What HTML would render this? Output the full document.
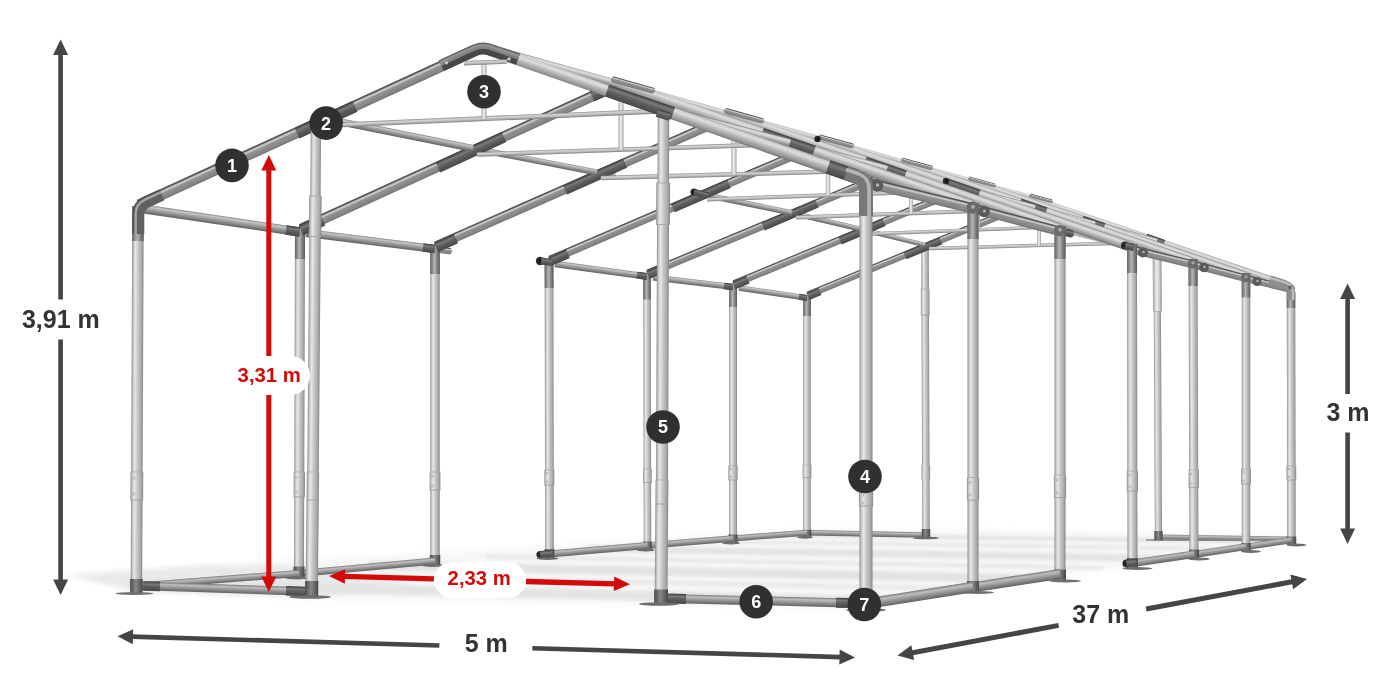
<!DOCTYPE html>
<html><head><meta charset="utf-8"><title>Tent frame dimensions</title>
<style>
html,body{margin:0;padding:0;background:#fff;}
body{width:1400px;height:700px;overflow:hidden;font-family:"Liberation Sans",Arial,sans-serif;}
svg{display:block}
text{font-family:"Liberation Sans",Arial,sans-serif;font-weight:bold}
</style></head><body>
<svg width="1400" height="700" viewBox="0 0 1400 700">
<defs>
<linearGradient id="gR" x1="0" y1="0" x2="0" y2="1"><stop offset="0" stop-color="#4a4a4a"/><stop offset="0.12" stop-color="#5c5c5c"/><stop offset="0.2" stop-color="#b4b4b4"/><stop offset="0.3" stop-color="#cdcdcd"/><stop offset="0.42" stop-color="#939393"/><stop offset="0.85" stop-color="#838383"/><stop offset="1" stop-color="#6c6c6c"/></linearGradient>
<linearGradient id="gU" x1="0" y1="0" x2="0" y2="1"><stop offset="0" stop-color="#858585"/><stop offset="0.2" stop-color="#c6c6c6"/><stop offset="0.45" stop-color="#a4a4a4"/><stop offset="0.8" stop-color="#7a7a7a"/><stop offset="1" stop-color="#5e5e5e"/></linearGradient>
<linearGradient id="gT" x1="0" y1="0" x2="0" y2="1"><stop offset="0" stop-color="#8a8a8a"/><stop offset="0.3" stop-color="#d4d4d4"/><stop offset="0.6" stop-color="#bebebe"/><stop offset="1" stop-color="#7e7e7e"/></linearGradient>
<linearGradient id="gD" x1="0" y1="0" x2="0" y2="1"><stop offset="0" stop-color="#3a3a3a"/><stop offset="0.28" stop-color="#7a7a7a"/><stop offset="0.5" stop-color="#606060"/><stop offset="1" stop-color="#474747"/></linearGradient>
<linearGradient id="gL" x1="0" y1="0" x2="0" y2="1"><stop offset="0" stop-color="#7e7e7e"/><stop offset="0.12" stop-color="#cacaca"/><stop offset="0.3" stop-color="#dedede"/><stop offset="0.55" stop-color="#b6b6b6"/><stop offset="0.85" stop-color="#8e8e8e"/><stop offset="1" stop-color="#666666"/></linearGradient>
<linearGradient id="gB" x1="0" y1="0" x2="0" y2="1"><stop offset="0" stop-color="#7a7a7a"/><stop offset="0.25" stop-color="#bebebe"/><stop offset="0.5" stop-color="#9e9e9e"/><stop offset="1" stop-color="#626262"/></linearGradient>
<linearGradient id="gPV" x1="0" y1="0" x2="0" y2="1"><stop offset="0" stop-color="#828282"/><stop offset="0.15" stop-color="#a8a8a8"/><stop offset="0.45" stop-color="#c6c6c6"/><stop offset="0.7" stop-color="#e8e8e8"/><stop offset="0.87" stop-color="#c2c2c2"/><stop offset="1" stop-color="#8c8c8c"/></linearGradient>
<linearGradient id="gPDV" x1="0" y1="0" x2="0" y2="1"><stop offset="0" stop-color="#585858"/><stop offset="0.3" stop-color="#868686"/><stop offset="0.55" stop-color="#b4b4b4"/><stop offset="0.8" stop-color="#888888"/><stop offset="1" stop-color="#626262"/></linearGradient>
<linearGradient id="gTV" x1="0" y1="0" x2="0" y2="1"><stop offset="0" stop-color="#9a9a9a"/><stop offset="0.3" stop-color="#d6d6d6"/><stop offset="0.6" stop-color="#ececec"/><stop offset="1" stop-color="#a0a0a0"/></linearGradient>
<linearGradient id="gDV" x1="0" y1="0" x2="0" y2="1"><stop offset="0" stop-color="#474747"/><stop offset="0.3" stop-color="#6a6a6a"/><stop offset="0.55" stop-color="#888"/><stop offset="0.8" stop-color="#666"/><stop offset="1" stop-color="#4a4a4a"/></linearGradient>
<filter id="blur" x="-10%" y="-50%" width="120%" height="200%"><feGaussianBlur stdDeviation="5"/></filter>
<filter id="blur2" x="-10%" y="-50%" width="120%" height="200%"><feGaussianBlur stdDeviation="2.5"/></filter>
<filter id="blur3" x="-10%" y="-100%" width="120%" height="300%"><feGaussianBlur stdDeviation="1.6"/></filter>
</defs>
<rect width="1400" height="700" fill="#fff"/>
<clipPath id="floor"><polygon points="62,574 137,593 312,599 660,605 866,609 1060,576 1132,566 1290,542 1290,535 1000,530 807,529 435,553 250,562"/></clipPath>
<g filter="url(#blur2)">
<polygon points="62,574 137,593 312,599 660,605 866,609 1060,576 1132,566 1290,542 1290,535 1000,530 807,529 435,553 250,562" fill="#f7f7f7"/>
</g>
<polygon points="70,576 137,591 312,597 420,585 312,566 200,566" fill="#e9e9e9" filter="url(#blur2)"/>
<g clip-path="url(#floor)"><g filter="url(#blur3)">
<line x1="128.1" y1="584.1" x2="895.7" y2="601.2" stroke="#e4e4e4" stroke-width="10"/>
<line x1="259.5" y1="574.0" x2="972.0" y2="589.0" stroke="#e9e9e9" stroke-width="5"/>
<line x1="369.0" y1="565.6" x2="1035.6" y2="578.8" stroke="#e3e3e3" stroke-width="9"/>
<line x1="485.8" y1="556.6" x2="1103.4" y2="567.9" stroke="#e8e8e8" stroke-width="4"/>
<line x1="588.0" y1="548.8" x2="1162.8" y2="558.4" stroke="#e4e4e4" stroke-width="7"/>
<line x1="690.2" y1="541.0" x2="1222.2" y2="548.9" stroke="#e8e8e8" stroke-width="3.5"/>
<line x1="770.5" y1="534.8" x2="1268.8" y2="541.4" stroke="#e4e4e4" stroke-width="4"/>
</g></g>
<rect x="0" y="-2.75" width="119.02" height="5.50" rx="0.00" fill="url(#gB)" transform="translate(807.00,532.80) rotate(1.06)"/>
<rect x="0" y="-2.50" width="133.02" height="5.00" rx="0.00" fill="url(#gB)" transform="translate(1158.00,537.00) rotate(0.86)"/>
<line x1="1146" y1="540" x2="1290" y2="540.5" stroke="#8a8a8a" stroke-width="1.6"/>
<rect x="0" y="-3.75" width="291.00" height="7.50" fill="url(#gPV)" transform="translate(925.00,245.00) rotate(89.80)"/>
<rect x="0" y="-4.35" width="26.00" height="8.70" fill="url(#gPV)" transform="translate(925.15,289.00) rotate(89.80)"/>
<line x1="920.8" y1="289.0" x2="929.5" y2="289.0" stroke="#aaa" stroke-width="0.8"/>
<line x1="920.9" y1="315.0" x2="929.6" y2="315.0" stroke="#999" stroke-width="0.8"/>
<rect x="0" y="-4.25" width="8.50" height="8.50" fill="url(#gDV)" transform="translate(925.98,529.00) rotate(89.84)"/>
<rect x="0" y="-4.30" width="15.00" height="8.60" fill="url(#gPV)" transform="translate(925.80,465.00) rotate(89.81)"/>
<rect x="0" y="-3.60" width="294.00" height="7.20" fill="url(#gPV)" transform="translate(1157.00,245.00) rotate(89.71)"/>
<rect x="0" y="-4.20" width="61.00" height="8.40" fill="url(#gPV)" transform="translate(1157.03,250.00) rotate(89.71)"/>
<line x1="1152.8" y1="250.0" x2="1161.2" y2="250.0" stroke="#aaa" stroke-width="0.8"/>
<line x1="1153.1" y1="311.0" x2="1161.5" y2="311.0" stroke="#999" stroke-width="0.8"/>
<rect x="0" y="-4.10" width="9.50" height="8.20" fill="url(#gDV)" transform="translate(1158.46,531.00) rotate(89.75)"/>
<rect x="0" y="-4.30" width="61.00" height="8.60" fill="url(#gTV)" transform="translate(1157.00,250.00) rotate(89.72)"/>
<ellipse cx="926" cy="538" rx="13" ry="1.3" fill="#6e6e6e"/>
<rect x="0" y="-3.75" width="239.80" height="7.50" fill="url(#gPV)" transform="translate(807.00,296.00) rotate(90.00)"/>
<rect x="0" y="-3.75" width="20.00" height="7.50" fill="url(#gPDV)" transform="translate(807.00,296.00) rotate(90.00)"/>
<rect x="0" y="-4.35" width="12.50" height="8.70" fill="url(#gPV)" transform="translate(807.00,465.00) rotate(90.00)"/>
<line x1="802.6" y1="465.0" x2="811.4" y2="465.0" stroke="#aaa" stroke-width="0.8"/>
<line x1="802.6" y1="477.5" x2="811.4" y2="477.5" stroke="#999" stroke-width="0.8"/>
<rect x="0" y="-4.25" width="7.50" height="8.50" fill="url(#gDV)" transform="translate(807.00,529.80) rotate(90.00)"/>
<ellipse cx="805" cy="537.3" rx="8" ry="1.5" fill="#6e6e6e"/>
<rect x="0" y="-3.50" width="247.81" height="7.00" rx="0.00" fill="url(#gR)" transform="translate(808.00,295.00) rotate(-22.47)"/>
<rect x="0" y="-3.80" width="39.05" height="7.60" rx="0.00" fill="url(#gD)" transform="translate(905.00,255.79) rotate(-22.81)"/>
<rect x="0" y="-3.80" width="13.02" height="7.60" rx="0.00" fill="url(#gD)" transform="translate(1024.00,205.76) rotate(-22.81)"/>
<rect x="0" y="-3.80" width="13.02" height="7.60" rx="0.00" fill="url(#gD)" transform="translate(808.00,296.58) rotate(-22.81)"/>
<rect x="0" y="-1.75" width="228.09" height="3.50" rx="0.00" fill="url(#gT)" transform="translate(929.00,248.50) rotate(-1.57)"/>
<rect x="0" y="-2.00" width="45.20" height="4.00" fill="url(#gTV)" transform="translate(1039.00,200.29) rotate(90.00)"/>
<rect x="0" y="-2.75" width="68.73" height="5.50" rx="0.00" fill="url(#gU)" transform="translate(739.00,288.00) rotate(8.37)"/>
<rect x="0" y="-3.00" width="8.09" height="6.00" rx="0.00" fill="url(#gD)" transform="translate(799.00,296.81) rotate(8.46)"/>
<rect x="0" y="-2.25" width="62.82" height="4.50" rx="0.00" fill="url(#gU)" transform="translate(864.00,230.00) rotate(13.82)"/>
<rect x="0" y="-3.00" width="74.22" height="6.00" rx="0.00" fill="url(#gB)" transform="translate(733.00,538.50) rotate(-4.40)"/>
<rect x="0" y="-4.00" width="256.50" height="8.00" fill="url(#gPV)" transform="translate(733.00,285.00) rotate(90.00)"/>
<rect x="0" y="-4.00" width="22.00" height="8.00" fill="url(#gPDV)" transform="translate(733.00,285.00) rotate(90.00)"/>
<rect x="0" y="-4.60" width="14.00" height="9.20" fill="url(#gPV)" transform="translate(733.00,466.00) rotate(90.00)"/>
<line x1="728.4" y1="466.0" x2="737.6" y2="466.0" stroke="#aaa" stroke-width="0.8"/>
<line x1="728.4" y1="480.0" x2="737.6" y2="480.0" stroke="#999" stroke-width="0.8"/>
<circle cx="730.8" cy="469.1" r="0.9" fill="#e2e2e2" stroke="#8a8a8a" stroke-width="0.5"/>
<circle cx="730.8" cy="476.9" r="0.9" fill="#e2e2e2" stroke="#8a8a8a" stroke-width="0.5"/>
<rect x="0" y="-4.50" width="8.50" height="9.00" fill="url(#gDV)" transform="translate(733.00,534.50) rotate(90.00)"/>
<ellipse cx="731" cy="543.0" rx="9" ry="1.5" fill="#6e6e6e"/>
<rect x="0" y="-3.75" width="262.10" height="7.50" rx="0.00" fill="url(#gR)" transform="translate(734.00,284.00) rotate(-22.59)"/>
<rect x="0" y="-4.05" width="47.77" height="8.10" rx="0.00" fill="url(#gD)" transform="translate(840.00,240.79) rotate(-22.90)"/>
<rect x="0" y="-4.05" width="15.20" height="8.10" rx="0.00" fill="url(#gD)" transform="translate(961.00,189.67) rotate(-22.90)"/>
<rect x="0" y="-4.05" width="15.20" height="8.10" rx="0.00" fill="url(#gD)" transform="translate(734.00,285.58) rotate(-22.90)"/>
<rect x="0" y="-1.75" width="227.17" height="3.50" rx="0.00" fill="url(#gT)" transform="translate(868.00,234.00) rotate(-2.23)"/>
<rect x="0" y="-2.00" width="46.39" height="4.00" fill="url(#gTV)" transform="translate(978.00,183.33) rotate(90.00)"/>
<rect x="0" y="-3.00" width="80.56" height="6.00" rx="0.00" fill="url(#gU)" transform="translate(653.00,277.50) rotate(6.77)"/>
<rect x="0" y="-3.25" width="9.07" height="6.50" rx="0.00" fill="url(#gD)" transform="translate(724.00,285.90) rotate(6.96)"/>
<rect x="0" y="-2.50" width="73.98" height="5.00" rx="0.00" fill="url(#gU)" transform="translate(792.00,213.00) rotate(13.28)"/>
<rect x="0" y="-3.25" width="85.78" height="6.50" rx="0.00" fill="url(#gB)" transform="translate(647.50,545.40) rotate(-4.61)"/>
<rect x="0" y="-3.75" width="273.90" height="7.50" fill="url(#gPV)" transform="translate(647.00,274.50) rotate(89.90)"/>
<rect x="0" y="-3.75" width="25.00" height="7.50" fill="url(#gPDV)" transform="translate(647.00,274.50) rotate(89.90)"/>
<rect x="0" y="-4.35" width="13.50" height="8.70" fill="url(#gPV)" transform="translate(647.36,469.00) rotate(89.90)"/>
<line x1="643.0" y1="469.0" x2="651.7" y2="469.0" stroke="#aaa" stroke-width="0.8"/>
<line x1="643.0" y1="482.5" x2="651.7" y2="482.5" stroke="#999" stroke-width="0.8"/>
<rect x="0" y="-4.25" width="8.50" height="8.50" fill="url(#gDV)" transform="translate(647.49,541.40) rotate(89.91)"/>
<ellipse cx="645.5" cy="549.9" rx="9" ry="1.5" fill="#6e6e6e"/>
<rect x="0" y="-4.00" width="282.77" height="8.00" rx="0.00" fill="url(#gR)" transform="translate(648.00,273.50) rotate(-22.63)"/>
<rect x="0" y="-4.30" width="58.63" height="8.60" rx="0.00" fill="url(#gD)" transform="translate(763.00,226.45) rotate(-22.92)"/>
<rect x="0" y="-4.30" width="17.37" height="8.60" rx="0.00" fill="url(#gD)" transform="translate(892.00,171.89) rotate(-22.92)"/>
<rect x="0" y="-4.30" width="17.37" height="8.60" rx="0.00" fill="url(#gD)" transform="translate(648.00,275.08) rotate(-22.92)"/>
<rect x="0" y="-2.00" width="239.16" height="4.00" rx="0.00" fill="url(#gT)" transform="translate(796.00,217.50) rotate(-2.07)"/>
<rect x="0" y="-2.00" width="48.64" height="4.00" fill="url(#gTV)" transform="translate(911.00,164.71) rotate(90.00)"/>
<rect x="0" y="-3.25" width="92.85" height="6.50" rx="0.00" fill="url(#gU)" transform="translate(555.00,264.00) rotate(7.74)"/>
<rect x="0" y="-3.50" width="10.09" height="7.00" rx="0.00" fill="url(#gD)" transform="translate(637.00,275.12) rotate(7.84)"/>
<rect x="0" y="-2.75" width="90.90" height="5.50" rx="0.00" fill="url(#gU)" transform="translate(703.00,194.50) rotate(11.74)"/>
<rect x="0" y="-3.50" width="98.38" height="7.00" rx="0.00" fill="url(#gB)" transform="translate(549.50,554.00) rotate(-5.02)"/>
<rect x="0" y="-4.38" width="296.00" height="8.75" fill="url(#gPV)" transform="translate(549.00,261.00) rotate(89.90)"/>
<rect x="0" y="-4.38" width="27.00" height="8.75" fill="url(#gPDV)" transform="translate(549.00,261.00) rotate(89.90)"/>
<rect x="0" y="-4.97" width="15.00" height="9.95" fill="url(#gPV)" transform="translate(549.35,470.00) rotate(89.90)"/>
<line x1="544.4" y1="470.0" x2="554.3" y2="470.0" stroke="#aaa" stroke-width="0.8"/>
<line x1="544.4" y1="485.0" x2="554.4" y2="485.0" stroke="#999" stroke-width="0.8"/>
<circle cx="546.9" cy="473.3" r="0.9" fill="#e2e2e2" stroke="#8a8a8a" stroke-width="0.5"/>
<circle cx="546.9" cy="481.7" r="0.9" fill="#e2e2e2" stroke="#8a8a8a" stroke-width="0.5"/>
<rect x="0" y="-4.88" width="9.50" height="9.75" fill="url(#gDV)" transform="translate(549.49,549.00) rotate(89.92)"/>
<ellipse cx="547.5" cy="558.5" rx="11" ry="1.5" fill="#6e6e6e"/>
<rect x="0" y="-4.25" width="300.31" height="8.50" rx="0.00" fill="url(#gR)" transform="translate(550.00,260.00) rotate(-23.21)"/>
<rect x="0" y="-4.55" width="61.06" height="9.10" rx="0.00" fill="url(#gD)" transform="translate(673.00,208.12) rotate(-23.49)"/>
<rect x="0" y="-4.55" width="21.81" height="9.10" rx="0.00" fill="url(#gD)" transform="translate(805.00,150.76) rotate(-23.49)"/>
<rect x="0" y="-4.55" width="19.63" height="9.10" rx="0.00" fill="url(#gD)" transform="translate(550.00,261.57) rotate(-23.49)"/>
<rect x="0" y="-2.00" width="258.16" height="4.00" rx="0.00" fill="url(#gT)" transform="translate(707.00,199.50) rotate(-2.00)"/>
<rect x="0" y="-2.25" width="53.64" height="4.50" fill="url(#gTV)" transform="translate(828.00,141.63) rotate(90.00)"/>
<rect x="0" y="-3.25" width="17.18" height="6.50" rx="3.25" fill="url(#gR)" transform="translate(435.00,249.00) rotate(8.37)"/>
<rect x="0" y="-3.00" width="19.32" height="6.00" rx="3.00" fill="url(#gU)" transform="translate(597.00,172.50) rotate(10.44)"/>
<rect x="0" y="-4.75" width="317.00" height="9.50" fill="url(#gPV)" transform="translate(435.00,247.00) rotate(90.00)"/>
<rect x="0" y="-4.75" width="27.00" height="9.50" fill="url(#gPDV)" transform="translate(435.00,247.00) rotate(90.00)"/>
<rect x="0" y="-5.35" width="18.00" height="10.70" fill="url(#gPV)" transform="translate(435.00,472.00) rotate(90.00)"/>
<line x1="429.6" y1="472.0" x2="440.4" y2="472.0" stroke="#aaa" stroke-width="0.8"/>
<line x1="429.6" y1="490.0" x2="440.4" y2="490.0" stroke="#999" stroke-width="0.8"/>
<circle cx="432.3" cy="476.0" r="1.0" fill="#e2e2e2" stroke="#8a8a8a" stroke-width="0.5"/>
<circle cx="432.3" cy="486.0" r="1.0" fill="#e2e2e2" stroke="#8a8a8a" stroke-width="0.5"/>
<rect x="0" y="-5.25" width="10.50" height="10.50" fill="url(#gDV)" transform="translate(435.00,555.00) rotate(90.00)"/>
<ellipse cx="433" cy="565.5" rx="11" ry="1.5" fill="#6e6e6e"/>
<rect x="0" y="-4.75" width="323.49" height="9.50" rx="0.00" fill="url(#gR)" transform="translate(436.00,246.00) rotate(-23.79)"/>
<rect x="0" y="-5.05" width="65.70" height="10.10" rx="0.00" fill="url(#gD)" transform="translate(565.00,190.00) rotate(-24.04)"/>
<rect x="0" y="-5.05" width="24.09" height="10.10" rx="0.00" fill="url(#gD)" transform="translate(709.00,125.76) rotate(-24.04)"/>
<rect x="0" y="-5.05" width="21.90" height="10.10" rx="0.00" fill="url(#gD)" transform="translate(436.00,247.55) rotate(-24.04)"/>
<rect x="0" y="-2.25" width="286.11" height="4.50" rx="0.00" fill="url(#gT)" transform="translate(601.00,178.00) rotate(-1.58)"/>
<rect x="0" y="-2.50" width="58.84" height="5.00" fill="url(#gTV)" transform="translate(734.00,115.50) rotate(90.00)"/>
<rect x="0" y="-4.00" width="129.99" height="8.00" rx="0.00" fill="url(#gU)" transform="translate(306.00,233.00) rotate(7.07)"/>
<rect x="0" y="-4.25" width="12.09" height="8.50" rx="0.00" fill="url(#gD)" transform="translate(423.00,247.49) rotate(7.18)"/>
<rect x="0" y="-3.00" width="126.30" height="6.00" rx="0.00" fill="url(#gU)" transform="translate(473.00,148.50) rotate(10.95)"/>
<rect x="0" y="-3.50" width="136.57" height="7.00" rx="0.00" fill="url(#gB)" transform="translate(299.00,573.50) rotate(-5.25)"/>
<rect x="0" y="-5.00" width="346.50" height="10.00" fill="url(#gPV)" transform="translate(300.00,230.00) rotate(90.17)"/>
<rect x="0" y="-5.00" width="29.00" height="10.00" fill="url(#gPDV)" transform="translate(300.00,230.00) rotate(90.17)"/>
<rect x="0" y="-5.60" width="25.00" height="11.20" fill="url(#gPV)" transform="translate(299.30,472.00) rotate(90.17)"/>
<line x1="293.7" y1="472.0" x2="304.9" y2="472.0" stroke="#aaa" stroke-width="0.8"/>
<line x1="293.6" y1="497.0" x2="304.8" y2="497.0" stroke="#999" stroke-width="0.8"/>
<circle cx="296.5" cy="477.5" r="1.0" fill="#e2e2e2" stroke="#8a8a8a" stroke-width="0.5"/>
<circle cx="296.5" cy="491.5" r="1.0" fill="#e2e2e2" stroke="#8a8a8a" stroke-width="0.5"/>
<rect x="0" y="-5.50" width="11.50" height="11.00" fill="url(#gDV)" transform="translate(299.03,566.50) rotate(90.14)"/>
<ellipse cx="297" cy="578.0" rx="12" ry="1.5" fill="#6e6e6e"/>
<rect x="0" y="-5.25" width="349.46" height="10.50" rx="0.00" fill="url(#gR)" transform="translate(301.00,229.00) rotate(-24.50)"/>
<rect x="0" y="-5.55" width="72.66" height="11.10" rx="0.00" fill="url(#gD)" transform="translate(438.00,167.44) rotate(-24.73)"/>
<rect x="0" y="-5.55" width="28.62" height="11.10" rx="0.00" fill="url(#gD)" transform="translate(592.00,96.52) rotate(-24.73)"/>
<rect x="0" y="-5.55" width="24.22" height="11.10" rx="0.00" fill="url(#gD)" transform="translate(301.00,230.54) rotate(-24.73)"/>
<rect x="0" y="-2.25" width="313.18" height="4.50" rx="0.00" fill="url(#gT)" transform="translate(477.00,154.50) rotate(-1.93)"/>
<rect x="0" y="-2.50" width="65.57" height="5.00" fill="url(#gTV)" transform="translate(621.00,84.09) rotate(90.00)"/>
<rect x="0" y="-4.50" width="157.69" height="9.00" rx="0.00" fill="url(#gU)" transform="translate(144.00,209.00) rotate(8.39)"/>
<rect x="0" y="-4.75" width="14.15" height="9.50" rx="0.00" fill="url(#gD)" transform="translate(286.00,229.93) rotate(8.43)"/>
<rect x="0" y="-3.50" width="149.93" height="7.00" rx="0.00" fill="url(#gU)" transform="translate(326.00,119.00) rotate(11.35)"/>
<rect x="0" y="-3.50" width="161.98" height="7.00" rx="0.00" fill="url(#gB)" transform="translate(137.50,586.00) rotate(-4.43)"/>
<rect x="0" y="-5.75" width="386.00" height="11.50" fill="url(#gPV)" transform="translate(138.00,206.00) rotate(90.24)"/>
<rect x="0" y="-5.75" width="35.00" height="11.50" fill="url(#gPDV)" transform="translate(138.00,206.00) rotate(90.24)"/>
<rect x="0" y="-6.35" width="28.00" height="12.70" fill="url(#gPV)" transform="translate(136.90,472.00) rotate(90.24)"/>
<line x1="130.5" y1="472.0" x2="143.2" y2="472.0" stroke="#aaa" stroke-width="0.8"/>
<line x1="130.4" y1="500.0" x2="143.1" y2="500.0" stroke="#999" stroke-width="0.8"/>
<circle cx="133.7" cy="478.2" r="1.2" fill="#e2e2e2" stroke="#8a8a8a" stroke-width="0.5"/>
<circle cx="133.7" cy="493.8" r="1.2" fill="#e2e2e2" stroke="#8a8a8a" stroke-width="0.5"/>
<rect x="0" y="-6.25" width="14.50" height="12.50" fill="url(#gDV)" transform="translate(136.45,579.00) rotate(90.21)"/>
<ellipse cx="134.4" cy="593.5" rx="19" ry="1.5" fill="#6e6e6e"/>
<rect x="0" y="-5.50" width="377.43" height="11.00" rx="0.00" fill="url(#gR)" transform="translate(139.00,205.00) rotate(-24.66)"/>
<rect x="0" y="-5.80" width="63.93" height="11.60" rx="0.00" fill="url(#gD)" transform="translate(297.00,133.28) rotate(-24.88)"/>
<rect x="0" y="-2.50" width="337.31" height="5.00" rx="0.00" fill="url(#gT)" transform="translate(326.00,125.50) rotate(-2.47)"/>
<rect x="0" y="-2.50" width="55.77" height="5.00" fill="url(#gTV)" transform="translate(484.00,63.00) rotate(90.00)"/>
<polygon points="520,57 1039,199 1288,283 1288,290 1060,232 866,186 700,128 520,66" fill="#b4b4b4"/>
<path d="M0,-4.00 L575.65,-2.75 L575.65,2.75 L0,4.00 Z" fill="url(#gL)" transform="translate(482.00,46.50) rotate(15.39)"/>
<path d="M0,-3.25 L266.34,-4.00 L266.34,4.00 L0,3.25 Z" fill="url(#gL)" transform="translate(1037.00,200.29) rotate(18.89)"/>
<path d="M0,-3.87 L19.02,-3.92 L19.02,3.92 L0,3.87 Z" fill="url(#gD)" transform="translate(1146.00,237.50) rotate(18.85)"/>
<rect x="0" y="-1.75" width="24.91" height="3.50" rx="1.75" fill="url(#gR)" transform="translate(1029.00,195.07) rotate(15.54)"/>
<rect x="0" y="-2.75" width="64.31" height="5.50" rx="0.00" fill="url(#gL)" transform="translate(1095.00,224.17) rotate(15.40)"/>
<path d="M0,-3.50 L283.41,-4.25 L283.41,4.25 L0,3.50 Z" fill="url(#gL)" transform="translate(976.00,183.33) rotate(18.98)"/>
<path d="M0,-4.09 L23.26,-4.16 L23.26,4.16 L0,4.09 Z" fill="url(#gD)" transform="translate(1082.00,219.71) rotate(18.94)"/>
<rect x="0" y="-2.00" width="29.06" height="4.00" rx="2.00" fill="url(#gR)" transform="translate(968.00,178.11) rotate(15.54)"/>
<rect x="0" y="-3.00" width="62.18" height="6.00" rx="0.00" fill="url(#gL)" transform="translate(1035.00,207.87) rotate(15.20)"/>
<path d="M0,-3.75 L298.15,-4.50 L298.15,4.50 L0,3.75 Z" fill="url(#gL)" transform="translate(909.00,164.71) rotate(18.94)"/>
<path d="M0,-4.34 L27.48,-4.41 L27.48,4.41 L0,4.34 Z" fill="url(#gD)" transform="translate(1020.00,202.73) rotate(18.91)"/>
<rect x="0" y="-2.25" width="33.21" height="4.50" rx="2.25" fill="url(#gR)" transform="translate(901.00,159.48) rotate(15.54)"/>
<rect x="0" y="-3.25" width="72.37" height="6.50" rx="0.00" fill="url(#gL)" transform="translate(965.00,189.50) rotate(14.71)"/>
<path d="M0,-4.00 L321.58,-5.00 L321.58,5.00 L0,4.00 Z" fill="url(#gL)" transform="translate(826.00,141.63) rotate(19.03)"/>
<path d="M0,-4.70 L33.84,-4.80 L33.84,4.80 L0,4.70 Z" fill="url(#gD)" transform="translate(947.00,183.30) rotate(19.00)"/>
<rect x="0" y="-2.50" width="37.37" height="5.00" rx="2.50" fill="url(#gR)" transform="translate(818.00,136.41) rotate(15.54)"/>
<path d="M0,-4.25 L345.03,-5.50 L345.03,5.50 L0,4.25 Z" fill="url(#gL)" transform="translate(732.00,115.50) rotate(19.12)"/>
<path d="M0,-5.06 L42.33,-5.21 L42.33,5.21 L0,5.06 Z" fill="url(#gD)" transform="translate(865.00,161.52) rotate(19.09)"/>
<rect x="0" y="-2.75" width="41.52" height="5.50" rx="2.75" fill="url(#gR)" transform="translate(724.00,110.28) rotate(15.54)"/>
<rect x="0" y="-3.75" width="100.47" height="7.50" rx="0.00" fill="url(#gL)" transform="translate(790.00,142.98) rotate(15.09)"/>
<path d="M0,-4.75 L372.35,-6.00 L372.35,6.00 L0,4.75 Z" fill="url(#gL)" transform="translate(619.00,84.09) rotate(19.03)"/>
<path d="M0,-5.55 L55.00,-5.74 L55.00,5.74 L0,5.55 Z" fill="url(#gD)" transform="translate(762.00,133.33) rotate(19.00)"/>
<rect x="0" y="-3.00" width="45.67" height="6.00" rx="3.00" fill="url(#gR)" transform="translate(611.00,78.86) rotate(15.54)"/>
<rect x="0" y="-4.00" width="131.22" height="8.00" rx="0.00" fill="url(#gL)" transform="translate(663.00,109.95) rotate(14.58)"/>
<path d="M0,-5.25 L404.16,-7.00 L404.16,7.00 L0,5.25 Z" fill="url(#gL)" transform="translate(482.00,47.50) rotate(19.06)"/>
<path d="M0,-6.12 L69.82,-6.42 L69.82,6.42 L0,6.12 Z" fill="url(#gD)" transform="translate(607.00,90.63) rotate(19.04)"/>
<path d="M0,-7.03 L29.62,-7.15 L29.62,7.15 L0,7.03 Z" fill="url(#gD)" transform="translate(828.00,166.89) rotate(19.04)"/>
<rect x="0" y="-4.25" width="251.50" height="8.50" fill="url(#gPV)" transform="translate(1291.00,292.00) rotate(89.89)"/>
<rect x="0" y="-4.25" width="16.00" height="8.50" fill="url(#gPDV)" transform="translate(1291.00,292.00) rotate(89.89)"/>
<rect x="0" y="-4.85" width="14.00" height="9.70" fill="url(#gPV)" transform="translate(1291.35,466.00) rotate(89.89)"/>
<line x1="1286.5" y1="466.0" x2="1296.2" y2="466.0" stroke="#aaa" stroke-width="0.8"/>
<line x1="1286.5" y1="480.0" x2="1296.2" y2="480.0" stroke="#999" stroke-width="0.8"/>
<circle cx="1289.0" cy="469.1" r="0.9" fill="#e2e2e2" stroke="#8a8a8a" stroke-width="0.5"/>
<circle cx="1289.0" cy="476.9" r="0.9" fill="#e2e2e2" stroke="#8a8a8a" stroke-width="0.5"/>
<rect x="0" y="-4.75" width="8.50" height="9.50" fill="url(#gDV)" transform="translate(1291.49,536.50) rotate(89.91)"/>
<ellipse cx="1296.5" cy="545.0" rx="10" ry="1.4" fill="#6e6e6e"/>
<rect x="0" y="-3.50" width="44.22" height="7.00" rx="0.00" fill="url(#gR)" transform="translate(1250.00,279.50) rotate(13.47)"/>
<circle cx="1290.5" cy="288.5" r="4.3" fill="#6a6a6a"/>
<circle cx="1291" cy="287.8" r="1.4" fill="#a8a8a8"/>
<circle cx="1257" cy="281.5" r="4.5" fill="#5a5a5a"/>
<circle cx="1257.5" cy="281" r="1.2" fill="#b0b0b0"/>
<rect x="0" y="-3.25" width="44.00" height="6.50" rx="0.00" fill="url(#gB)" transform="translate(1248.00,546.60) rotate(-8.63)"/>
<rect x="0" y="-4.25" width="277.00" height="8.50" fill="url(#gPV)" transform="translate(1246.00,273.00) rotate(90.00)"/>
<rect x="0" y="-4.25" width="24.50" height="8.50" fill="url(#gPDV)" transform="translate(1246.00,273.00) rotate(90.00)"/>
<rect x="0" y="-4.85" width="15.00" height="9.70" fill="url(#gPV)" transform="translate(1246.00,469.00) rotate(90.00)"/>
<line x1="1241.2" y1="469.0" x2="1250.8" y2="469.0" stroke="#aaa" stroke-width="0.8"/>
<line x1="1241.2" y1="484.0" x2="1250.8" y2="484.0" stroke="#999" stroke-width="0.8"/>
<circle cx="1243.6" cy="472.3" r="0.9" fill="#e2e2e2" stroke="#8a8a8a" stroke-width="0.5"/>
<circle cx="1243.6" cy="480.7" r="0.9" fill="#e2e2e2" stroke="#8a8a8a" stroke-width="0.5"/>
<rect x="0" y="-4.75" width="8.50" height="9.50" fill="url(#gDV)" transform="translate(1246.00,543.00) rotate(90.00)"/>
<ellipse cx="1251" cy="551.5" rx="10" ry="1.4" fill="#6e6e6e"/>
<rect x="0" y="-3.75" width="52.71" height="7.50" rx="0.00" fill="url(#gR)" transform="translate(1197.00,265.50) rotate(14.62)"/>
<circle cx="1245.5" cy="277.5" r="4.5" fill="#6a6a6a"/>
<circle cx="1246" cy="276.8" r="1.5" fill="#a8a8a8"/>
<circle cx="1204" cy="267.5" r="4.8" fill="#5a5a5a"/>
<circle cx="1204.5" cy="267" r="1.2" fill="#b0b0b0"/>
<rect x="0" y="-3.50" width="50.57" height="7.00" rx="0.00" fill="url(#gB)" transform="translate(1196.00,554.20) rotate(-8.64)"/>
<rect x="0" y="-4.50" width="298.50" height="9.00" fill="url(#gPV)" transform="translate(1193.00,259.00) rotate(89.81)"/>
<rect x="0" y="-4.50" width="27.00" height="9.00" fill="url(#gPDV)" transform="translate(1193.00,259.00) rotate(89.81)"/>
<rect x="0" y="-5.10" width="17.50" height="10.20" fill="url(#gPV)" transform="translate(1193.71,470.00) rotate(89.81)"/>
<line x1="1188.6" y1="470.0" x2="1198.8" y2="470.0" stroke="#aaa" stroke-width="0.8"/>
<line x1="1188.7" y1="487.5" x2="1198.9" y2="487.5" stroke="#999" stroke-width="0.8"/>
<circle cx="1191.2" cy="473.9" r="0.9" fill="#e2e2e2" stroke="#8a8a8a" stroke-width="0.5"/>
<circle cx="1191.2" cy="483.6" r="0.9" fill="#e2e2e2" stroke="#8a8a8a" stroke-width="0.5"/>
<rect x="0" y="-5.00" width="9.50" height="10.00" fill="url(#gDV)" transform="translate(1193.97,549.50) rotate(89.84)"/>
<ellipse cx="1199" cy="559.0" rx="11" ry="1.4" fill="#6e6e6e"/>
<rect x="0" y="-4.00" width="60.71" height="8.00" rx="0.00" fill="url(#gR)" transform="translate(1136.00,250.50) rotate(13.62)"/>
<circle cx="1192.5" cy="263.5" r="4.8" fill="#6a6a6a"/>
<circle cx="1193" cy="262.8" r="1.6" fill="#a8a8a8"/>
<circle cx="1143" cy="252.5" r="5.0" fill="#5a5a5a"/>
<circle cx="1143.5" cy="252" r="1.3" fill="#b0b0b0"/>
<rect x="0" y="-3.75" width="60.15" height="7.50" rx="0.00" fill="url(#gB)" transform="translate(1134.50,563.00) rotate(-8.41)"/>
<rect x="0" y="-5.00" width="323.00" height="10.00" fill="url(#gPV)" transform="translate(1132.00,244.00) rotate(89.91)"/>
<rect x="0" y="-5.00" width="29.00" height="10.00" fill="url(#gPDV)" transform="translate(1132.00,244.00) rotate(89.91)"/>
<rect x="0" y="-5.60" width="20.00" height="11.20" fill="url(#gPV)" transform="translate(1132.35,471.00) rotate(89.91)"/>
<line x1="1126.8" y1="471.0" x2="1138.0" y2="471.0" stroke="#aaa" stroke-width="0.8"/>
<line x1="1126.8" y1="491.0" x2="1138.0" y2="491.0" stroke="#999" stroke-width="0.8"/>
<circle cx="1129.6" cy="475.4" r="1.0" fill="#e2e2e2" stroke="#8a8a8a" stroke-width="0.5"/>
<circle cx="1129.6" cy="486.6" r="1.0" fill="#e2e2e2" stroke="#8a8a8a" stroke-width="0.5"/>
<rect x="0" y="-5.50" width="10.50" height="11.00" fill="url(#gDV)" transform="translate(1132.49,558.00) rotate(89.92)"/>
<ellipse cx="1137.5" cy="568.5" rx="15" ry="1.4" fill="#6e6e6e"/>
<rect x="0" y="-3.75" width="10.31" height="7.50" rx="3.75" fill="url(#gD)" transform="translate(1064.00,232.00) rotate(14.04)"/>
<rect x="0" y="-5.50" width="353.50" height="11.00" fill="url(#gPV)" transform="translate(1060.00,226.00) rotate(90.00)"/>
<rect x="0" y="-5.50" width="33.00" height="11.00" fill="url(#gPDV)" transform="translate(1060.00,226.00) rotate(90.00)"/>
<rect x="0" y="-6.10" width="22.50" height="12.20" fill="url(#gPV)" transform="translate(1060.00,475.00) rotate(90.00)"/>
<line x1="1053.9" y1="475.0" x2="1066.1" y2="475.0" stroke="#aaa" stroke-width="0.8"/>
<line x1="1053.9" y1="497.5" x2="1066.1" y2="497.5" stroke="#999" stroke-width="0.8"/>
<circle cx="1056.9" cy="479.9" r="1.1" fill="#e2e2e2" stroke="#8a8a8a" stroke-width="0.5"/>
<circle cx="1056.9" cy="492.6" r="1.1" fill="#e2e2e2" stroke="#8a8a8a" stroke-width="0.5"/>
<rect x="0" y="-6.00" width="11.50" height="12.00" fill="url(#gDV)" transform="translate(1060.00,569.50) rotate(90.00)"/>
<ellipse cx="1065" cy="581.0" rx="16" ry="1.4" fill="#6e6e6e"/>
<rect x="0" y="-4.75" width="87.88" height="9.50" rx="0.00" fill="url(#gR)" transform="translate(977.00,209.50) rotate(14.70)"/>
<circle cx="1059.5" cy="230.5" r="5.5" fill="#6a6a6a"/>
<circle cx="1060" cy="229.8" r="1.9" fill="#a8a8a8"/>
<circle cx="984" cy="211.5" r="5.8" fill="#5a5a5a"/>
<circle cx="984.5" cy="211" r="1.6" fill="#b0b0b0"/>
<rect x="0" y="-5.00" width="85.99" height="10.00" rx="0.00" fill="url(#gB)" transform="translate(975.00,587.00) rotate(-8.70)"/>
<rect x="0" y="-5.50" width="388.00" height="11.00" fill="url(#gPV)" transform="translate(973.00,203.00) rotate(90.00)"/>
<rect x="0" y="-5.50" width="36.00" height="11.00" fill="url(#gPDV)" transform="translate(973.00,203.00) rotate(90.00)"/>
<rect x="0" y="-6.10" width="22.50" height="12.20" fill="url(#gPV)" transform="translate(973.00,477.50) rotate(90.00)"/>
<line x1="966.9" y1="477.5" x2="979.1" y2="477.5" stroke="#aaa" stroke-width="0.8"/>
<line x1="966.9" y1="500.0" x2="979.1" y2="500.0" stroke="#999" stroke-width="0.8"/>
<circle cx="969.9" cy="482.4" r="1.1" fill="#e2e2e2" stroke="#8a8a8a" stroke-width="0.5"/>
<circle cx="969.9" cy="495.1" r="1.1" fill="#e2e2e2" stroke="#8a8a8a" stroke-width="0.5"/>
<rect x="0" y="-6.00" width="11.50" height="12.00" fill="url(#gDV)" transform="translate(973.00,581.00) rotate(90.00)"/>
<ellipse cx="978" cy="592.5" rx="16" ry="1.4" fill="#6e6e6e"/>
<rect x="0" y="-5.25" width="108.01" height="10.50" rx="0.00" fill="url(#gR)" transform="translate(870.00,183.50) rotate(13.55)"/>
<circle cx="972.5" cy="207.5" r="6.0" fill="#6a6a6a"/>
<circle cx="973" cy="206.8" r="2.1" fill="#a8a8a8"/>
<circle cx="877" cy="185.5" r="6.2" fill="#5a5a5a"/>
<circle cx="877.5" cy="185" r="1.8" fill="#b0b0b0"/>
<rect x="0" y="-5.25" width="106.29" height="10.50" rx="0.00" fill="url(#gB)" transform="translate(868.00,603.50) rotate(-8.93)"/>
<rect x="0" y="-6.50" width="431.00" height="13.00" fill="url(#gPV)" transform="translate(866.00,177.00) rotate(90.00)"/>
<rect x="0" y="-6.50" width="39.00" height="13.00" fill="url(#gPDV)" transform="translate(866.00,177.00) rotate(90.00)"/>
<rect x="0" y="-7.10" width="14.00" height="14.20" fill="url(#gPV)" transform="translate(866.00,492.00) rotate(90.00)"/>
<line x1="858.9" y1="492.0" x2="873.1" y2="492.0" stroke="#aaa" stroke-width="0.8"/>
<line x1="858.9" y1="506.0" x2="873.1" y2="506.0" stroke="#999" stroke-width="0.8"/>
<circle cx="862.4" cy="495.1" r="1.3" fill="#e2e2e2" stroke="#8a8a8a" stroke-width="0.5"/>
<circle cx="862.4" cy="502.9" r="1.3" fill="#e2e2e2" stroke="#8a8a8a" stroke-width="0.5"/>
<circle cx="540" cy="261" r="4.2" fill="#2a2a2a"/>
<circle cx="540.6" cy="261" r="1.9" fill="#111"/>
<circle cx="694" cy="192" r="3.6" fill="#2a2a2a"/>
<circle cx="694.6" cy="192" r="1.6" fill="#111"/>
<circle cx="817.5" cy="139" r="3.2" fill="#2a2a2a"/>
<circle cx="818.1" cy="139" r="1.4" fill="#111"/>
<circle cx="946" cy="181" r="3.2" fill="#2a2a2a"/>
<circle cx="946.6" cy="181" r="1.4" fill="#111"/>
<circle cx="1125" cy="245.5" r="4" fill="#2a2a2a"/>
<circle cx="1125.6" cy="245.5" r="1.8" fill="#111"/>
<circle cx="1126.4" cy="563.6" r="4" fill="#2a2a2a"/>
<circle cx="1127.0" cy="563.6" r="1.8" fill="#111"/>
<circle cx="540" cy="554.5" r="3.6" fill="#2a2a2a"/>
<circle cx="540.6" cy="554.5" r="1.6" fill="#111"/>
<rect x="0" y="-3.50" width="11.10" height="7.00" rx="0.00" fill="url(#gD)" transform="translate(541.00,261.00) rotate(7.77)"/>
<rect x="0" y="-3.00" width="14.43" height="6.00" rx="0.00" fill="url(#gD)" transform="translate(694.00,192.00) rotate(14.04)"/>
<rect x="0" y="-3.50" width="9.22" height="7.00" rx="0.00" fill="url(#gD)" transform="translate(1125.00,245.50) rotate(12.53)"/>
<rect x="0" y="-3.75" width="9.65" height="7.50" rx="0.00" fill="url(#gD)" transform="translate(1126.40,563.60) rotate(-5.95)"/>
<rect x="0" y="-3.50" width="12.03" height="7.00" rx="0.00" fill="url(#gD)" transform="translate(540.00,554.50) rotate(-4.29)"/>
<path d="M138.4,234 L138.4,215 Q138.4,206 146.5,202.2 L162,195" fill="none" stroke="#606060" stroke-width="11.8"/>
<path d="M135.7,234 L135.7,214 Q135.7,203.8 145.2,199.6 L161,192.3" fill="none" stroke="#a6a6a6" stroke-width="2.3"/>
<path d="M133,234 L133,213.5 Q133,201.8 144,197 L160,189.8" fill="none" stroke="#484848" stroke-width="1"/>
<path d="M846,173 L857,176.8 Q866,180 866,189 L866,216" fill="none" stroke="#787878" stroke-width="14"/>
<path d="M846,169.5 L859,174 Q869,178 869,189 L869,216" fill="none" stroke="#b4b4b4" stroke-width="3.5"/>
<path d="M1270,279.6 L1284,284 Q1291,286.5 1291,293 L1291,300" fill="none" stroke="#8e8e8e" stroke-width="8.5"/>
<path d="M1270,277.8 L1285,282.4 Q1293,285 1293,293 L1293,300" fill="none" stroke="#bdbdbd" stroke-width="2.2"/>
<circle cx="1290" cy="287.5" r="2" fill="#666"/>
<path d="M441.50,65.70 L474.50,50.60 Q482.30,47.00 490.00,49.90 L518.00,59.30" fill="none" stroke="#474747" stroke-width="11.6" stroke-linejoin="round"/>
<path d="M440.42,63.34 L473.42,48.24 Q482.30,44.32 490.83,47.44 L518.83,56.84" fill="none" stroke="#838383" stroke-width="5.6" stroke-linejoin="round"/>
<path d="M440.09,62.61 L473.09,47.51 Q482.30,43.50 491.08,46.68 L519.08,56.08" fill="none" stroke="#959595" stroke-width="1.6" stroke-linejoin="round"/>
<path d="M439.17,60.61 L472.17,45.51 Q482.30,41.23 491.79,44.59 L519.79,53.99" fill="none" stroke="#5e5e5e" stroke-width="0.9" stroke-linejoin="round"/>
<circle cx="446.5" cy="62.8" r="1.6" fill="#c8c8c8"/><circle cx="509" cy="59" r="1.8" fill="#c8c8c8"/>
<rect x="0" y="-2.25" width="43.03" height="4.50" rx="0.00" fill="url(#gT)" transform="translate(464.00,63.20) rotate(-2.13)"/>
<rect x="0" y="-4.25" width="163.09" height="8.50" rx="0.00" fill="url(#gB)" transform="translate(143.00,586.00) rotate(1.93)"/>
<rect x="0" y="-4.75" width="17.01" height="9.50" rx="0.00" fill="url(#gD)" transform="translate(143.00,586.00) rotate(2.02)"/>
<rect x="0" y="-4.75" width="20.01" height="9.50" rx="0.00" fill="url(#gD)" transform="translate(286.00,590.80) rotate(2.00)"/>
<rect x="0" y="-4.50" width="181.06" height="9.00" rx="0.00" fill="url(#gB)" transform="translate(667.00,598.50) rotate(1.42)"/>
<rect x="0" y="-5.00" width="19.01" height="10.00" rx="0.00" fill="url(#gD)" transform="translate(667.00,598.50) rotate(1.51)"/>
<rect x="0" y="-5.00" width="14.00" height="10.00" rx="0.00" fill="url(#gD)" transform="translate(836.00,602.70) rotate(1.23)"/>
<rect x="0" y="-5.15" width="75.00" height="10.30" fill="url(#gPV)" transform="translate(316.00,122.00) rotate(90.46)"/>
<rect x="0" y="-6.25" width="41.00" height="12.50" fill="url(#gPV)" transform="translate(315.40,196.00) rotate(90.56)"/>
<rect x="0" y="-5.75" width="237.01" height="11.50" fill="url(#gPV)" transform="translate(315.00,236.00) rotate(90.48)"/>
<rect x="0" y="-6.15" width="122.01" height="12.30" fill="url(#gPV)" transform="translate(313.00,472.00) rotate(90.66)"/>
<rect x="0" y="-6.60" width="15.00" height="13.20" fill="url(#gDV)" transform="translate(311.70,581.00) rotate(90.38)"/>
<line x1="309" y1="196" x2="321.5" y2="196" stroke="#a4a4a4" stroke-width="0.9"/>
<line x1="309" y1="236.5" x2="321.5" y2="236.5" stroke="#a4a4a4" stroke-width="0.9"/>
<line x1="307" y1="500" x2="319" y2="500" stroke="#999" stroke-width="0.8"/>
<line x1="307" y1="472" x2="319" y2="472" stroke="#aaa" stroke-width="0.8"/>
<ellipse cx="310" cy="597" rx="21" ry="1.8" fill="#6e6e6e"/>
<rect x="0" y="-5.75" width="68.00" height="11.50" fill="url(#gPV)" transform="translate(663.50,116.00) rotate(90.25)"/>
<rect x="0" y="-6.90" width="42.00" height="13.80" fill="url(#gPV)" transform="translate(663.20,183.00) rotate(90.27)"/>
<rect x="0" y="-6.00" width="257.00" height="12.00" fill="url(#gPV)" transform="translate(663.00,224.00) rotate(90.22)"/>
<rect x="0" y="-6.40" width="121.00" height="12.80" fill="url(#gPV)" transform="translate(662.00,480.00) rotate(90.47)"/>
<rect x="0" y="-6.90" width="13.50" height="13.80" fill="url(#gDV)" transform="translate(661.10,589.50) rotate(90.42)"/>
<line x1="656" y1="183" x2="670" y2="183" stroke="#a4a4a4" stroke-width="0.9"/>
<line x1="656" y1="224.5" x2="670" y2="224.5" stroke="#a4a4a4" stroke-width="0.9"/>
<line x1="655" y1="504" x2="667.5" y2="504" stroke="#999" stroke-width="0.8"/>
<line x1="655" y1="480" x2="667.5" y2="480" stroke="#aaa" stroke-width="0.8"/>
<ellipse cx="659" cy="604" rx="20" ry="1.8" fill="#6e6e6e"/>
<rect x="0" y="-4.00" width="13.60" height="8.00" rx="0.00" fill="url(#gD)" transform="translate(657.00,113.00) rotate(17.10)"/>
<rect x="0" y="-7.00" width="15.00" height="14.00" fill="url(#gDV)" transform="translate(866.00,594.00) rotate(90.00)"/>
<ellipse cx="866" cy="610" rx="20" ry="1.8" fill="#6e6e6e"/>
<line x1="60.60" y1="53.45" x2="60.60" y2="299.50" stroke="#454545" stroke-width="4.6"/>
<line x1="60.60" y1="339.50" x2="60.60" y2="581.05" stroke="#454545" stroke-width="4.6"/>
<polygon points="60.60,595.00 53.10,579.50 68.10,579.50" fill="#454545"/>
<polygon points="60.60,39.50 53.10,55.00 68.10,55.00" fill="#454545"/>
<line x1="1347.60" y1="297.45" x2="1347.60" y2="394.00" stroke="#454545" stroke-width="4.6"/>
<line x1="1347.60" y1="432.50" x2="1347.60" y2="530.05" stroke="#454545" stroke-width="4.6"/>
<polygon points="1347.60,544.00 1340.10,528.50 1355.10,528.50" fill="#454545"/>
<polygon points="1347.60,283.50 1340.10,299.00 1355.10,299.00" fill="#454545"/>
<line x1="131.44" y1="636.60" x2="439.37" y2="645.50" stroke="#454545" stroke-width="4.6"/>
<line x1="532.33" y1="648.18" x2="841.06" y2="657.10" stroke="#454545" stroke-width="4.6"/>
<polygon points="855.00,657.50 839.29,664.55 839.72,649.56" fill="#454545"/>
<polygon points="117.50,636.20 132.78,644.14 133.21,629.15" fill="#454545"/>
<line x1="911.21" y1="652.94" x2="1058.71" y2="625.38" stroke="#454545" stroke-width="5"/>
<line x1="1146.20" y1="609.04" x2="1293.29" y2="581.56" stroke="#454545" stroke-width="5"/>
<polygon points="1307.00,579.00 1293.14,589.22 1290.39,574.47" fill="#454545"/>
<polygon points="897.50,655.50 914.11,660.03 911.36,645.28" fill="#454545"/>
<line x1="268.80" y1="168.95" x2="268.80" y2="356.00" stroke="#d40a0a" stroke-width="5"/>
<line x1="268.80" y1="395.00" x2="268.80" y2="578.05" stroke="#d40a0a" stroke-width="5"/>
<polygon points="268.80,592.00 261.30,576.50 276.30,576.50" fill="#d40a0a"/>
<polygon points="268.80,155.00 261.30,170.50 276.30,170.50" fill="#d40a0a"/>
<line x1="343.39" y1="576.40" x2="433.96" y2="578.89" stroke="#d40a0a" stroke-width="5.4"/>
<line x1="525.93" y1="581.43" x2="615.61" y2="583.90" stroke="#d40a0a" stroke-width="5.4"/>
<polygon points="630.00,584.30 613.81,591.11 614.21,576.61" fill="#d40a0a"/>
<polygon points="329.00,576.00 344.79,583.69 345.19,569.19" fill="#d40a0a"/>
<g opacity="0.999">
<text x="60.8" y="328.3" font-size="25" fill="#333333" text-anchor="middle">3,91 m</text>
<text x="486.3" y="651.5" font-size="25" fill="#333333" text-anchor="middle">5 m</text>
<text x="1100.8" y="622.6" font-size="25" fill="#333333" text-anchor="middle">37 m</text>
<text x="1348" y="420.5" font-size="25" fill="#333333" text-anchor="middle">3 m</text>
<rect x="226" y="356" width="84" height="39" rx="19.5" fill="#fff"/>
<text x="269.2" y="382.2" font-size="20.3" fill="#d40a0a" text-anchor="middle">3,31 m</text>
<rect x="434" y="562" width="92" height="36" rx="18.0" fill="#fff"/>
<text x="479.2" y="585.3" font-size="20.3" fill="#d40a0a" text-anchor="middle">2,33 m</text>
<circle cx="232" cy="165.4" r="16.8" fill="#303030"/>
<text x="232" y="171.8" font-size="18" fill="#fff" text-anchor="middle">1</text>
<circle cx="326.1" cy="123.1" r="16.8" fill="#303030"/>
<text x="326.1" y="129.5" font-size="18" fill="#fff" text-anchor="middle">2</text>
<circle cx="484" cy="91.7" r="16.8" fill="#303030"/>
<text x="484" y="98.10000000000001" font-size="18" fill="#fff" text-anchor="middle">3</text>
<circle cx="865" cy="476.5" r="16.8" fill="#303030"/>
<text x="865" y="482.9" font-size="18" fill="#fff" text-anchor="middle">4</text>
<circle cx="663" cy="427" r="16.8" fill="#303030"/>
<text x="663" y="433.4" font-size="18" fill="#fff" text-anchor="middle">5</text>
<circle cx="756.2" cy="601.7" r="16.8" fill="#303030"/>
<text x="756.2" y="608.1" font-size="18" fill="#fff" text-anchor="middle">6</text>
<circle cx="864.3" cy="604.5" r="16.8" fill="#303030"/>
<text x="864.3" y="610.9" font-size="18" fill="#fff" text-anchor="middle">7</text>
</g>
</svg>
</body></html>
